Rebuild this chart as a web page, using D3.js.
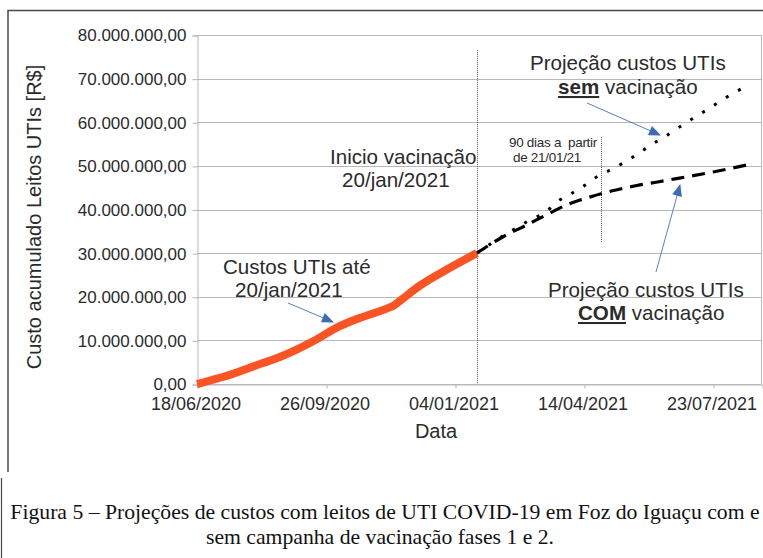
<!DOCTYPE html>
<html>
<head>
<meta charset="utf-8">
<script src="https://cdn.jsdelivr.net/npm/d3@7"></script>
<style>
  body { margin: 0; background: #fff; }
  text { font-family: "Liberation Sans", Arial, sans-serif; fill: #2b2b2b; }
</style>
</head>
<body>
<svg id="chart" width="763" height="558"></svg>
<script>
// custo acumulado real (ate 21/01/2021)
const realDates  = ["18/06/2020","21/06/2020","28/06/2020","08/07/2020","08/08/2020","16/08/2020","04/09/2020","16/09/2020","07/10/2020","20/10/2020","13/11/2020","17/11/2020","23/11/2020","08/12/2020","29/12/2020","21/01/2021"];
const realValues = [0, 0.2e6, 0.8e6, 1.6e6, 4.8e6, 5.6e6, 8.0e6, 9.8e6, 13.3e6, 14.9e6, 17.4e6, 17.9e6, 19.2e6, 22.6e6, 26.3e6, 30.0e6];

// projecao COM vacinacao
const comDates  = ["21/01/2021","10/02/2021","01/03/2021","16/03/2021","01/04/2021","19/04/2021","06/05/2021","25/05/2021","10/06/2021","27/06/2021","23/07/2021","18/08/2021"];
const comValues = [30.0e6, 33.7e6, 36.5e6, 38.8e6, 41.1e6, 42.9e6, 44.3e6, 45.5e6, 46.3e6, 47.2e6, 48.6e6, 50.2e6];

// projecao SEM vacinacao
const semDates  = ["21/01/2021","10/02/2021","02/03/2021","16/03/2021","24/03/2021","05/04/2021","15/04/2021","24/04/2021","06/05/2021","17/05/2021","27/05/2021","06/06/2021","17/06/2021","27/06/2021","07/07/2021","18/07/2021","28/07/2021","08/08/2021","18/08/2021"];
const semValues = [30.0e6, 33.9e6, 37.4e6, 39.6e6, 41.7e6, 43.8e6, 45.6e6, 47.5e6, 49.3e6, 51.1e6, 53.0e6, 55.0e6, 56.9e6, 58.9e6, 60.8e6, 62.8e6, 64.7e6, 66.7e6, 68.3e6];

const xTicks = ["18/06/2020","26/09/2020","04/01/2021","14/04/2021","23/07/2021"];
const yTicks = [0, 10e6, 20e6, 30e6, 40e6, 50e6, 60e6, 70e6, 80e6];
const xDomain = ["18/06/2020","30/08/2021"];
const yDomain = [0, 80e6];

// linhas verticais: inicio vacinacao e 90 dias depois
const vacDate = "21/01/2021", vacTop = 76.6e6;
const d90Date = "27/04/2021", d90Range = [32.3e6, 56.6e6];

const parse = d3.timeParse("%d/%m/%Y");
const fmtDate = d3.timeFormat("%d/%m/%Y");
const br = d3.formatLocale({ decimal: ",", thousands: ".", grouping: [3], currency: ["R$ ", ""] });
const fmtVal = br.format(",.2f");

const svg = d3.select("#chart");
const pLeft = 197, pRight = 762, pTop = 35, pBottom = 384;

const x = d3.scaleTime().domain(xDomain.map(parse)).range([pLeft, pRight]);
const y = d3.scaleLinear().domain(yDomain).range([pBottom, pTop]);

// moldura externa
svg.append("path")
  .attr("d", "M8,472 V10.5 H763")
  .attr("fill", "none").attr("stroke", "#4a4a4a").attr("stroke-width", 1.5);
svg.append("line")
  .attr("x1", 1.5).attr("x2", 1.5).attr("y1", 478).attr("y2", 558)
  .attr("stroke", "#4a4a4a").attr("stroke-width", 1.2);

// grade horizontal
svg.append("g").selectAll("line")
  .data(yTicks).enter().append("line")
  .attr("x1", pLeft).attr("x2", pRight - 1)
  .attr("y1", d => Math.round(y(d)) + 0.5).attr("y2", d => Math.round(y(d)) + 0.5)
  .attr("stroke", "#b8b8b8");

// borda direita
svg.append("line")
  .attr("x1", pRight - 0.5).attr("x2", pRight - 0.5)
  .attr("y1", pTop).attr("y2", pBottom)
  .attr("stroke", "#b8b8b8");

const yAxis = svg.append("g")
  .attr("transform", `translate(${pLeft + 0.5},0.5)`)
  .call(d3.axisLeft(y).tickValues(yTicks).tickFormat(fmtVal).tickSize(5).tickPadding(6));
yAxis.select(".domain").attr("stroke", "#b8b8b8");
yAxis.selectAll(".tick line").attr("stroke", "#b8b8b8");
yAxis.selectAll("text").style("font-size", "17px").attr("fill", "#2b2b2b");

const xAxis = svg.append("g")
  .attr("transform", `translate(0.5,${pBottom + 0.5})`)
  .call(d3.axisBottom(x).tickValues(xTicks.map(parse)).tickFormat(fmtDate).tickSize(4).tickPadding(9));
xAxis.select(".domain").attr("stroke", "#b8b8b8");
xAxis.selectAll(".tick line").attr("stroke", "#b8b8b8");
xAxis.selectAll("text").style("font-size", "18px").attr("fill", "#2b2b2b").attr("dx", "-2");

// titulos dos eixos
svg.append("text")
  .attr("x", 436).attr("y", 438)
  .attr("text-anchor", "middle")
  .style("font-size", "20px")
  .text("Data");

svg.append("text")
  .attr("transform", "translate(41,217) rotate(-90)")
  .attr("text-anchor", "middle")
  .style("font-size", "20px")
  .text("Custo acumulado Leitos UTIs [R$]");

// linha vertical inicio vacinacao
svg.append("line")
  .attr("x1", Math.round(x(parse(vacDate))) + 0.5).attr("x2", Math.round(x(parse(vacDate))) + 0.5)
  .attr("y1", y(vacTop)).attr("y2", pBottom)
  .attr("stroke", "#555").attr("stroke-dasharray", "1,1");

svg.append("line")
  .attr("x1", Math.round(x(parse(d90Date))) + 0.5).attr("x2", Math.round(x(parse(d90Date))) + 0.5)
  .attr("y1", y(d90Range[1])).attr("y2", y(d90Range[0]))
  .attr("stroke", "#555").attr("stroke-dasharray", "1,1");

const line = d3.line()
  .x(d => x(d[0]))
  .y(d => y(d[1]))
  .curve(d3.curveMonotoneX);

const zip = (ds, vs) => ds.map((d, i) => [parse(d), vs[i]]);

svg.append("path")
  .datum(zip(semDates, semValues))
  .attr("d", line)
  .attr("fill", "none").attr("stroke", "#000")
  .attr("stroke-width", 3).attr("stroke-dasharray", "3,11");

svg.append("path")
  .datum(zip(comDates, comValues))
  .attr("d", line)
  .attr("fill", "none").attr("stroke", "#000")
  .attr("stroke-width", 3.2).attr("stroke-dasharray", "13,8");

svg.append("path")
  .datum(zip(realDates, realValues))
  .attr("d", line)
  .attr("fill", "none").attr("stroke", "#fb5424")
  .attr("stroke-width", 8);

// setas
const defs = svg.append("defs");
defs.append("marker")
  .attr("id", "arrow")
  .attr("viewBox", "0 0 12 10")
  .attr("refX", 11).attr("refY", 5)
  .attr("markerWidth", 13).attr("markerHeight", 10)
  .attr("markerUnits", "userSpaceOnUse")
  .attr("orient", "auto")
  .append("path")
  .attr("d", "M0,0 L12,5 L0,10 Z")
  .attr("fill", "#3c6cb4");

const arrows = [
  [[288, 303], [333, 322]],
  [[587, 103], [660, 135]],
  [[656, 272], [680, 185]]
];
svg.append("g").selectAll("line")
  .data(arrows).enter().append("line")
  .attr("x1", d => d[0][0]).attr("y1", d => d[0][1])
  .attr("x2", d => d[1][0]).attr("y2", d => d[1][1])
  .attr("stroke", "#5a80bd").attr("stroke-width", 1)
  .attr("marker-end", "url(#arrow)");

// anotacoes
function note(xp, yp, str, size) {
  return svg.append("text").attr("x", xp).attr("y", yp)
    .style("font-size", size + "px").text(str);
}
note(330, 164, "Inicio vacinação", 20.6);
note(342, 187, "20/jan/2021", 20.6);
note(223, 274, "Custos UTIs até", 20.6);
note(235, 297, "20/jan/2021", 20.6);
note(530, 70, "Projeção custos UTIs", 20.6);
note(548, 297, "Projeção custos UTIs", 20.6);

const sem = svg.append("text").attr("x", 558).attr("y", 94).style("font-size", "20.6px");
sem.append("tspan").attr("font-weight", "bold").attr("text-decoration", "underline").text("sem");
sem.append("tspan").text(" vacinação");

const com = svg.append("text").attr("x", 578).attr("y", 320).style("font-size", "20.6px");
com.append("tspan").attr("font-weight", "bold").attr("text-decoration", "underline").text("COM");
com.append("tspan").text(" vacinação");

note(509, 147, "90 dias a  partir", 13.5).attr("letter-spacing", "-0.3").style("white-space", "pre");
note(513, 162, "de 21/01/21", 13.5).attr("letter-spacing", "-0.3");

// legenda da figura: corpo ajustado para a primeira linha ocupar a largura
const capFont = "'Liberation Serif', 'Times New Roman', serif";
const cap1 = "Figura 5 – Projeções de custos com leitos de UTI COVID-19 em Foz do Iguaçu com e";
const cap2 = "sem campanha de vacinação fases 1 e 2.";
const t1 = svg.append("text").attr("x", 385).attr("y", 519)
  .attr("text-anchor", "middle")
  .style("font-family", capFont)
  .style("font-size", "20px").style("fill", "#111")
  .text(cap1);
const capSize = 20 * 750 / t1.node().getComputedTextLength();
t1.style("font-size", capSize + "px");

svg.append("text").attr("x", 380).attr("y", 544)
  .attr("text-anchor", "middle")
  .style("font-family", capFont)
  .style("font-size", capSize + "px").style("fill", "#111")
  .text(cap2);
</script>
</body>
</html>
